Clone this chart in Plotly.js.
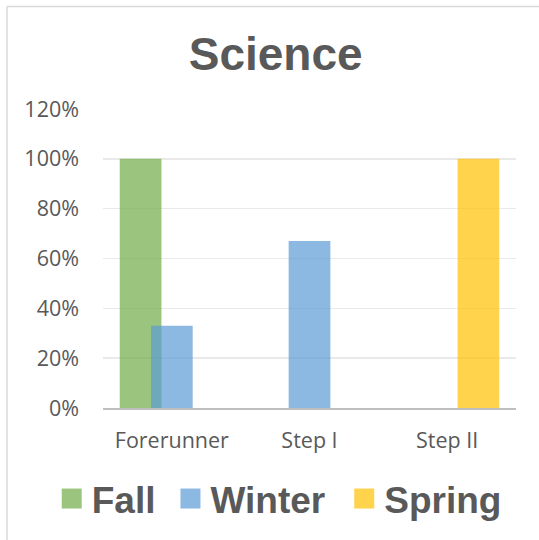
<!DOCTYPE html>
<html><head><meta charset="utf-8">
<script src="https://cdn.plot.ly/plotly-3.0.1.min.js"></script>
<style>html,body{margin:0;padding:0;background:#fff;} #chart{width:539px;height:540px;}</style>
</head><body><div id="chart"></div>
<script>
const categories = ['Forerunner', 'Step I', 'Step II'];
const seriesNames = ['Fall', 'Winter', 'Spring'];
const fallValues = [1.00, 0, 0];
const winterValues = [0.33, 0.67, 0];
const springValues = [0, 0, 1.00];
const yTickValues = [0, 0.2, 0.4, 0.6, 0.8, 1.0, 1.2];
const yTickLabels = ['0%', '20%', '40%', '60%', '80%', '100%', '120%'];
const chartTitle = 'Science';

const colors = ['rgba(112,173,71,0.7)', 'rgba(91,155,213,0.7)', 'rgba(255,192,0,0.7)'];
const offsets = [-0.3785, -0.1515, 0.0755];
const barWidth = 0.303;
const legendShifts = [-10, 0, 14];
const seriesValues = [fallValues, winterValues, springValues];

const traces = seriesValues.map((v, i) => ({
  type: 'bar', x: categories, y: v, name: seriesNames[i],
  width: barWidth, offset: offsets[i],
  marker: {color: colors[i], line: {width: 0}},
  hoverinfo: 'skip'
}));

const W = 539, H = 540, L = 103, R = 23, T = 109, B = 132;
const pw = W - L - R, ph = H - T - B;
const px2x = px => (px - L) / pw;
const py2y = py => (H - B - py) / ph;

const layout = {
  width: W, height: H,
  margin: {l: L, r: R, t: T, b: B, pad: 0, autoexpand: false},
  paper_bgcolor: '#ffffff', plot_bgcolor: '#ffffff',
  barmode: 'overlay',
  font: {family: 'Open Sans, sans-serif', color: '#595959'},
  title: {
    text: chartTitle,
    font: {family: 'Liberation Sans, Arial, sans-serif', size: 46, color: '#595959', weight: 700},
    xref: 'container', x: 275.7 / W, xanchor: 'center',
    yref: 'container', y: 1 - 54 / H, yanchor: 'middle'
  },
  xaxis: {
    type: 'category', range: [-0.5, 2.5],
    showgrid: false, zeroline: false,
    showline: true, linecolor: '#bfbfbf', linewidth: 2,
    ticks: '', tickfont: {family: 'Open Sans, sans-serif', size: 21.5, color: '#595959'},
    ticklabelstandoff: 12, fixedrange: true
  },
  yaxis: {
    range: [0, 1.2], tickvals: yTickValues, ticktext: yTickLabels,
    showgrid: true, gridcolor: '#e9e9e9', gridwidth: 1.5,
    zeroline: false, showline: false,
    ticks: '', tickfont: {family: 'Open Sans, sans-serif', size: 21.5, color: '#595959'},
    ticklabelstandoff: 23, fixedrange: true
  },
  legend: {
    orientation: 'h',
    xref: 'paper', x: px2x(61.7), xanchor: 'left',
    yref: 'paper', y: py2y(499), yanchor: 'middle',
    font: {family: 'Liberation Sans, Arial, sans-serif', size: 37, color: '#595959', weight: 700},
    bgcolor: 'rgba(0,0,0,0)'
  },
  shapes: [
    {type: 'line', xref: 'paper', yref: 'paper', x0: px2x(7), x1: px2x(560), y0: py2y(6.5), y1: py2y(6.5),
     line: {color: '#d9d9d9', width: 1.5}},
    {type: 'line', xref: 'paper', yref: 'paper', x0: px2x(7), x1: px2x(7), y0: py2y(6.5), y1: py2y(560),
     line: {color: '#d9d9d9', width: 1.5}}
  ]
};

function adjustLegend(gd) {
  gd.querySelectorAll('.legend .scrollbox').forEach(s => s.removeAttribute('clip-path'));
  gd.querySelectorAll('.legend .legendpoints path').forEach(p => p.setAttribute('d', 'M10,10H-10V-10H10Z'));
  gd.querySelectorAll('.legend g.traces').forEach((g, i) => {
    if (g.dataset.shifted) return;
    const t = g.getAttribute('transform') || '';
    const m = t.match(/translate\(\s*([-\d.e]+)[ ,]+([-\d.e]+)\s*\)/);
    if (m) {
      g.setAttribute('transform', 'translate(' + (parseFloat(m[1]) + (legendShifts[i] || 0)) + ',' + m[2] + ')');
      g.dataset.shifted = '1';
    }
  });
}

Plotly.newPlot('chart', traces, layout, {staticPlot: true, displayModeBar: false}).then(gd => {
  adjustLegend(gd);
  gd.on('plotly_afterplot', () => adjustLegend(gd));
});
</script>
</body></html>
